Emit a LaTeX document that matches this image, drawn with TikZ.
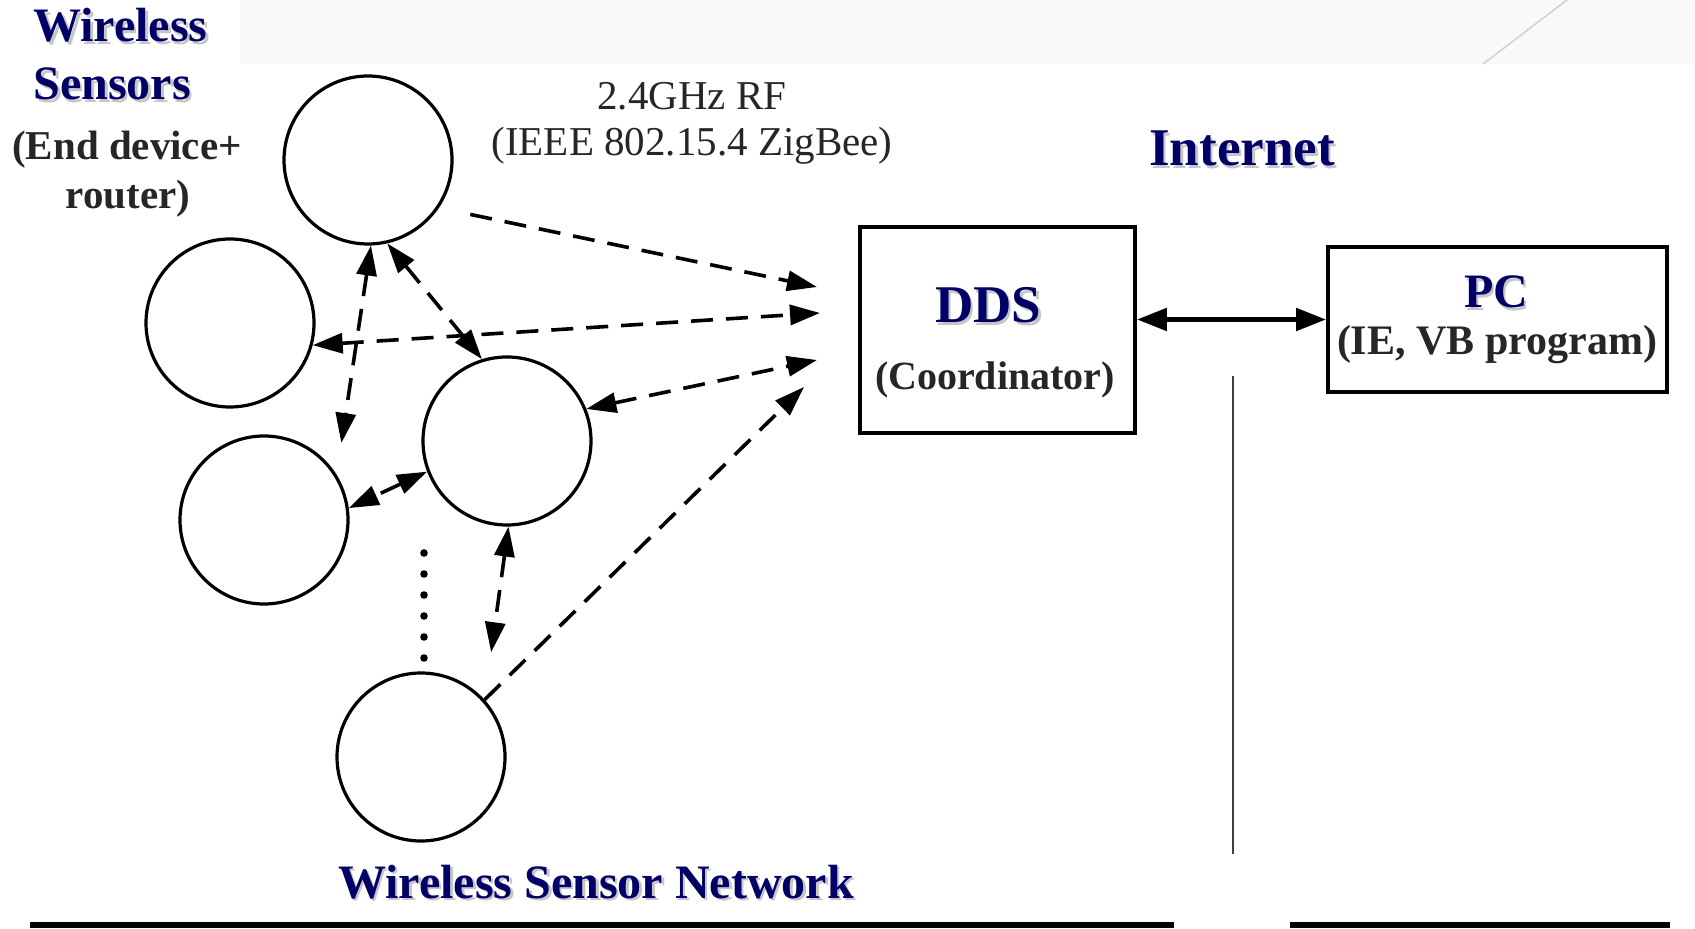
\documentclass[tikz,border=0pt]{standalone}
\usepackage{fontspec}
\setmainfont{Liberation Serif}
\usepackage{tikz}
\usetikzlibrary{arrows.meta}

\definecolor{titleblue}{RGB}{0,0,102}
\newcommand{\shadowed}[1]{\makebox[0pt][l]{\hspace{1.3pt}\raisebox{-1.3pt}{\textcolor{gray!45}{#1}}}#1}

\begin{document}
\begin{tikzpicture}[x=0.5pt,y=-0.5pt,>={Triangle[length=15pt,width=10pt]},
  sensor/.style={circle,draw,line width=1.6pt,minimum size=84pt,inner sep=0pt},
  box/.style={rectangle,draw,line width=1.9pt,inner sep=0pt},
  radio/.style={line width=1.8pt,dash pattern=on 11pt off 6.5pt},
  heading/.style={text=titleblue,font=\bfseries\fontsize{24}{28}\selectfont,inner sep=0pt},
  note/.style={text=black!85,font=\fontsize{20.5}{24}\selectfont,inner sep=0pt},
  boldnote/.style={note,font=\bfseries\fontsize{20.5}{24}\selectfont}]

  \path[fill=white] (0,0) rectangle (1695,929);
  \useasboundingbox (0,0) rectangle (1695,929);
  \fill[gray!5] (240,0) rectangle (1695,64);
  \draw[gray!35,line width=0.8pt] (1483,64) -- (1567,0);

  % sensor nodes
  \node[sensor] (s1) at (368,160) {};
  \node[sensor] (s2) at (230,323) {};
  \node[sensor] (s3) at (507,441) {};
  \node[sensor] (s4) at (264,520) {};
  \node[sensor] (s5) at (421,757) {};

  \node[box,minimum width=137.5pt,minimum height=103pt] (dds) at (997.5,330) {};
  \node[box,minimum width=169.5pt,minimum height=72.5pt] (pc) at (1497.5,319.5) {};

  % labels
  \node[heading,anchor=base west] (wl) at (33,42) {\shadowed{Wireless}};
  \node[heading,anchor=base west] (sn) at (33,100) {\shadowed{Sensors}};
  \node[boldnote,anchor=base] (ed) at (127,160) {(End device+};
  \node[boldnote,anchor=base] (rt) at (128,209) {router)};
  \node[note,anchor=base] (rf) at (692,110) {2.4GHz RF};
  \node[note,anchor=base] (zb) at (692,156) {(IEEE 802.15.4 ZigBee)};
  \node[heading,font=\bfseries\fontsize{26.5}{30}\selectfont,anchor=base] (inet) at (1242,166) {\shadowed{Internet}};
  \node[heading,font=\bfseries\fontsize{26.5}{30}\selectfont,anchor=base] (ddsname) at (988,323) {\shadowed{DDS}};
  \node[boldnote,font=\bfseries\fontsize{20}{22}\selectfont,anchor=base] (coord) at (995,390) {(Coordinator)};
  \node[heading,anchor=base] (pcname) at (1496,308) {\shadowed{PC}};
  \node[boldnote,font=\bfseries\fontsize{21}{24}\selectfont,anchor=base] (pcsw) at (1497,355) {(IE, VB program)};
  \node[heading,anchor=base] (wsn) at (596,898) {\shadowed{Wireless Sensor Network}};

  % ends of the radio links at the coordinator
  \coordinate (r1) at (817,287);
  \coordinate (r2) at (820,313);
  \coordinate (r3) at (817,360);
  \coordinate (r4) at (804,387);

  \path[radio]
    (s1.-34) edge[->,shorten <=16pt] (r1)
    (s2.-15) edge[<->] (r2)
    (s3.22) edge[<->] (r3)
    (s5.42) edge[->] (r4)
    (s1.-88) edge[<->,shorten >=16pt] (s4.32)
    (s1.-77) edge[<->] (s3.107)
    (s3.201) edge[<->] (s4.8)
    (s3.-89) edge[<->,shorten >=24pt] (s5.42);

  \draw[line width=3.8pt,line cap=round,dash pattern=on 0pt off 10.5pt] (424,553) -- (424,658);

  \draw[line width=2.6pt,{Triangle[length=15pt,width=11pt]}-{Triangle[length=15pt,width=11pt]}]
    (dds.east |- pc.west) -- (pc.west);

  \draw[line width=1.2pt,black!75] (1233,376) -- (1233,854);
  \draw[line width=3pt] (30,925) -- (1174,925);
  \draw[line width=3pt] (1290,925) -- (1670,925);
\end{tikzpicture}
\end{document}
